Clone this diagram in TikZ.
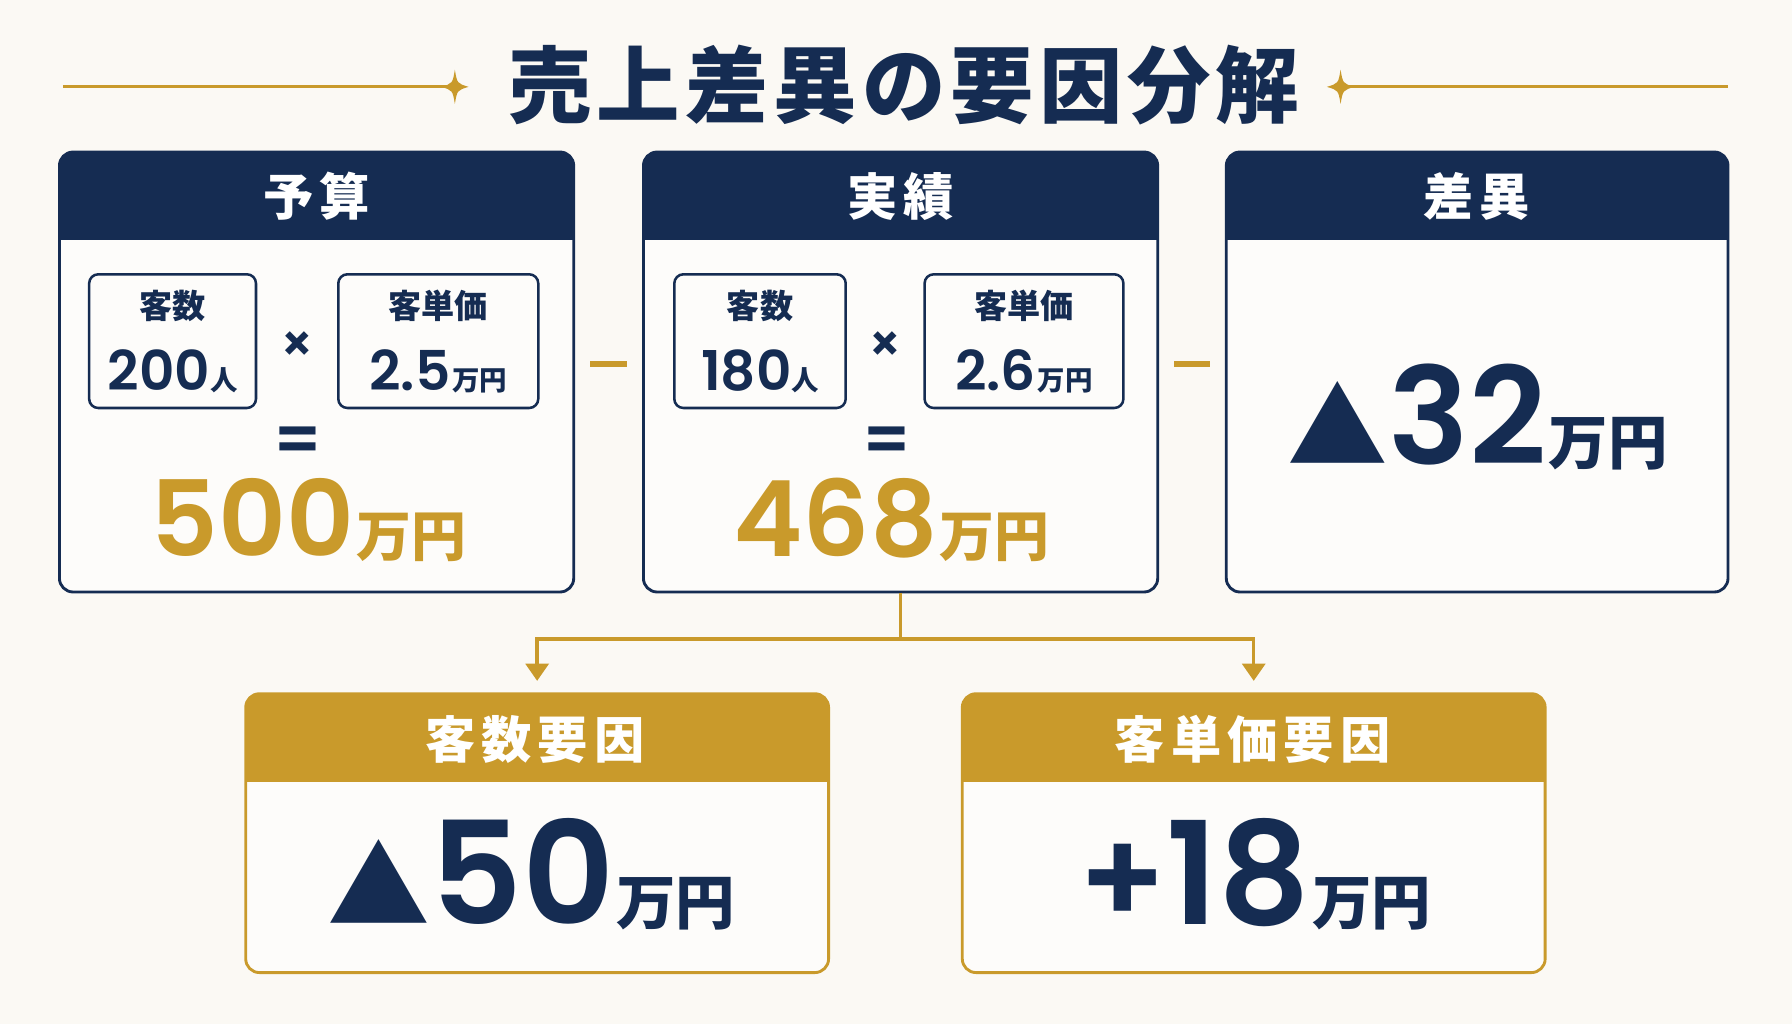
\documentclass[tikz,border=0pt]{standalone}
\usepackage{fontspec}
\setmainfont{Noto Sans CJK JP}
\newfontfamily\numfont{Poppins}[BoldFont={* SemiBold}]
\newfontfamily\widefont{Noto Sans CJK JP}[LetterSpace=12]
\newfontfamily\titlefont{Noto Sans CJK JP}[LetterSpace=6]
\usetikzlibrary{positioning,arrows.meta,calc}
\definecolor{navy}{HTML}{152C52}
\definecolor{gold}{HTML}{C99A2B}
\definecolor{paper}{HTML}{FBF9F4}
\newcommand\fsz[1]{\fontsize{#1}{#1}\selectfont}
\tikzset{
  card/.style={draw=#1, line width=2.5pt, rounded corners=12pt, fill=white!50!paper,
    path picture={\fill[#1, sharp corners] (path picture bounding box.north west) rectangle ([yshift=-77pt]path picture bounding box.north east);}},
  head/.style={text=white, font=\widefont\bfseries\fsz{44}},
  factor/.style={draw=navy, line width=2.2pt, rounded corners=8pt, minimum height=117pt, fill=white!50!paper},
  lbl/.style={text=navy, font=\bfseries\fsz{29}, inner sep=0pt},
  val/.style={text=navy, inner sep=0pt},
  op/.style={text=navy, font=\numfont\bfseries\fsz{#1}},
  minus/.style={fill=gold, minimum width=32pt, minimum height=5pt, inner sep=0pt},
  link/.style={draw=gold, line width=3pt},
  rule/.style={draw=gold, line width=2.5pt}
}
\begin{document}
\begin{tikzpicture}[x=1pt,y=-1pt]
\fill[paper] (0,0) rectangle (1568,896);
\useasboundingbox (0,0) rectangle (1568,896);
% title
\node[text=navy, font=\titlefont\bfseries\fsz{73}] (title) at (791,74) {売上差異の要因分解};
\coordinate (la) at (55,76);
\coordinate (ld) at (398,76);
\coordinate (rd) at (1173,76);
\coordinate (rb) at (1512,76);
\draw[rule] (la) -- (ld);
\draw[rule] (rd) -- (rb);
\foreach \d in {ld,rd}
  \fill[gold] ($(\d)+(0,-15)$) .. controls ($(\d)+(2,-3)$) .. ($(\d)+(12,0)$) .. controls ($(\d)+(2,3)$) .. ($(\d)+(0,15)$)
    .. controls ($(\d)+(-2,3)$) .. ($(\d)+(-12,0)$) .. controls ($(\d)+(-2,-3)$) .. cycle;
% top cards
\node[card=navy, minimum width=450pt, minimum height=385pt] (bud) at (277,325.5) {};
\node[card=navy, minimum width=450pt, minimum height=385pt] (act) at (788,325.5) {};
\node[card=navy, minimum width=439pt, minimum height=385pt] (diff) at (1292.5,325.5) {};
\node[head] at (277,172) {予算};
\node[head] at (788,172) {実績};
\node[head] at (1292,172) {差異};
% budget
\node[factor, minimum width=146pt] (bcnt) at (151,298.5) {};
\node[factor, minimum width=175pt] (bprc) at (383.5,298.5) {};
\node[lbl, below=15pt of bcnt.north] {客数};
\node[lbl, below=15pt of bprc.north] {客単価};
\node[val, above=14pt of bcnt.south] {{\numfont\bfseries\fsz{48}200}{\bfseries\fsz{24}人}};
\node[val, above=14pt of bprc.south] {{\numfont\bfseries\fsz{48}2.5}\,{\bfseries\fsz{24}万円}};
\node[op=44] at (260,303) {×};
\node[op=58] at (261,389) {=};
\node[val, text=gold] at (270,455) {{\numfont\bfseries\fsz{92}500}\,{\bfseries\fsz{48}万円}};
% actual
\node[factor, minimum width=150pt] (acnt) at (665,298.5) {};
\node[factor, minimum width=174pt] (aprc) at (896,298.5) {};
\node[lbl, below=15pt of acnt.north] {客数};
\node[lbl, below=15pt of aprc.north] {客単価};
\node[val, above=14pt of acnt.south] {{\numfont\bfseries\fsz{48}180}{\bfseries\fsz{24}人}};
\node[val, above=14pt of aprc.south] {{\numfont\bfseries\fsz{48}2.6}\,{\bfseries\fsz{24}万円}};
\node[op=44] at (775,303) {×};
\node[op=58] at (776,389) {=};
\node[val, text=gold] at (780,455) {{\numfont\bfseries\fsz{92}468}\,{\bfseries\fsz{48}万円}};
% difference
\node[val] at (1293,365) {{\bfseries\fsz{88}▲}{\numfont\bfseries\fsz{118}32}\,{\bfseries\fsz{52}万円}};
\node[minus] at ($(bud.east)!.5!(act.west)+(0,-7)$) {};
\node[minus] at ($(act.east)!.5!(diff.west)+(0,-7)$) {};
% factors
\node[card=gold, minimum width=510pt, minimum height=244pt] (fcnt) at (470,729) {};
\node[card=gold, minimum width=510pt, minimum height=244pt] (fprc) at (1097,729) {};
\node[head] at (468,647) {客数要因};
\node[head] at (1096,647) {客単価要因};
\node[val] at (465,765) {{\bfseries\fsz{90}▲}{\numfont\bfseries\fsz{125}50}\,{\bfseries\fsz{52}万円}};
\node[val] at (1098,765) {{\numfont\bfseries\fsz{115}+}{\numfont\bfseries\fsz{125}18}\,{\bfseries\fsz{52}万円}};
\coordinate (split) at ([yshift=-40pt]act.south);
\draw[link] (act.south) -- (split);
\draw[link, -{Triangle[width=20pt,length=15pt]}] (split) -| ([yshift=10pt]fcnt.north);
\draw[link, -{Triangle[width=20pt,length=15pt]}] (split) -| ([yshift=10pt]fprc.north);
\end{tikzpicture}
\end{document}
